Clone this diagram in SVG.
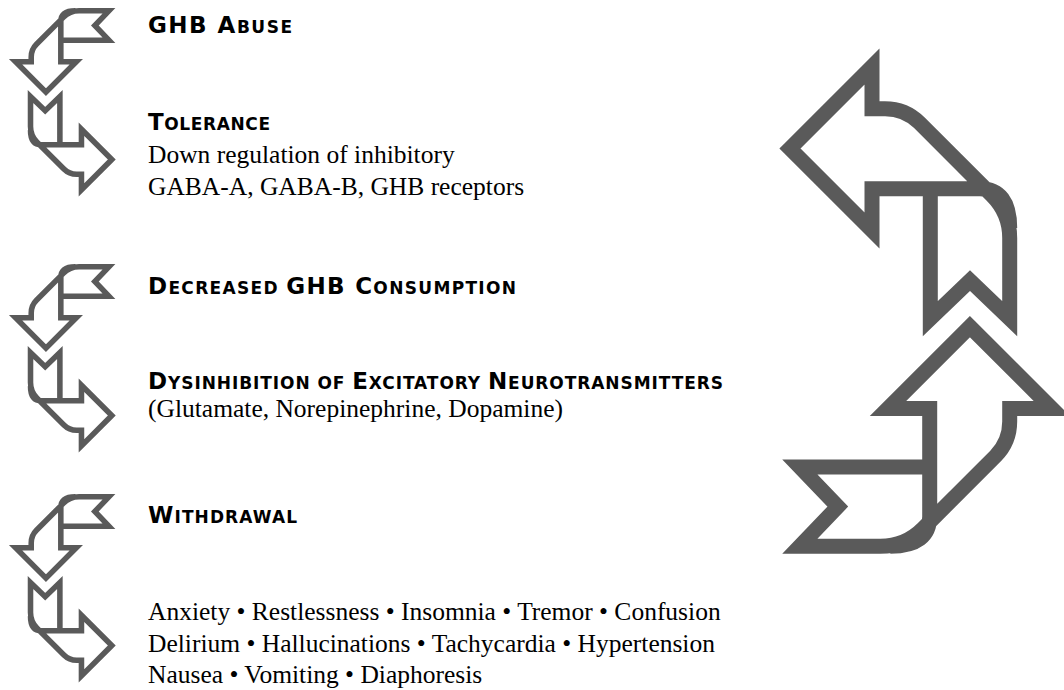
<svg xmlns="http://www.w3.org/2000/svg" xmlns:xlink="http://www.w3.org/1999/xlink" width="1064" height="690" viewBox="0 0 1064 690">
<style>
.arr{fill:none;stroke:#5a5a5a;stroke-width:15;stroke-linejoin:miter;stroke-miterlimit:4}
.hd{font-family:"DejaVu Sans","Liberation Sans",sans-serif;font-weight:bold;font-size:23px;fill:#000}
.sc{font-size:17px}
.bd{font-family:"Liberation Serif","Times New Roman",serif;font-size:25.5px;fill:#000}
</style>
<defs>
<path id="arrow" d="M790,148.5 L872,66.5 L872,108.7 L885,108.7 Q905.3,108.7 919.4,122.8 L992,195.4 Q1009.7,213.1 1009.7,238 L1009.7,318.6 L970,280.6 L930.3,318.6 L930.3,188.7 L872,188.7 L872,230.5 Z M930.3,188.7 L980,188.7 Q1009.7,188.7 1009.7,228"/>
<g id="pair">
<use xlink:href="#arrow" href="#arrow" transform="translate(-9,384.4) scale(0.37) rotate(-90)"/>
<use xlink:href="#arrow" href="#arrow" transform="translate(404.1,214.5) scale(0.37) rotate(180)"/>
</g>
</defs>
<g id="connectors" class="arr">
<use id="pair1" xlink:href="#pair" href="#pair"/>
<use id="pair2" xlink:href="#pair" href="#pair" transform="translate(0,256)"/>
<use id="pair3" xlink:href="#pair" href="#pair" transform="translate(0,486)"/>
<use id="big-top" xlink:href="#arrow" href="#arrow"/>
<use id="big-bottom" xlink:href="#arrow" href="#arrow" transform="translate(1118.4,-463.4) rotate(90)"/>
</g>
<g id="node-ghb-abuse">
<text class="hd" x="148" y="32.5" textLength="144" lengthAdjust="spacing">GHB A<tspan class="sc">BUSE</tspan></text>
</g>
<g id="node-tolerance">
<text class="hd" x="148" y="130" textLength="122" lengthAdjust="spacing">T<tspan class="sc">OLERANCE</tspan></text>
<text class="bd" x="148" y="163.3">Down regulation of inhibitory</text>
<text class="bd" x="148" y="194.5">GABA-A, GABA-B, GHB receptors</text>
</g>
<g id="node-decreased">
<text class="hd" x="148" y="294" textLength="368" lengthAdjust="spacing">D<tspan class="sc">ECREASED </tspan>GHB C<tspan class="sc">ONSUMPTION</tspan></text>
</g>
<g id="node-dysinhibition">
<text class="hd" x="148" y="389" textLength="575" lengthAdjust="spacing">D<tspan class="sc">YSINHIBITION OF </tspan>E<tspan class="sc">XCITATORY </tspan>N<tspan class="sc">EUROTRANSMITTERS</tspan></text>
<text class="bd" x="148" y="417">(Glutamate, Norepinephrine, Dopamine)</text>
</g>
<g id="node-withdrawal">
<text class="hd" x="148" y="523.3" textLength="149" lengthAdjust="spacing">W<tspan class="sc">ITHDRAWAL</tspan></text>
<text class="bd" x="148" y="620">Anxiety • Restlessness • Insomnia • Tremor • Confusion</text>
<text class="bd" x="148" y="651.7">Delirium • Hallucinations • Tachycardia • Hypertension</text>
<text class="bd" x="148" y="683.3">Nausea • Vomiting • Diaphoresis</text>
</g>
</svg>
